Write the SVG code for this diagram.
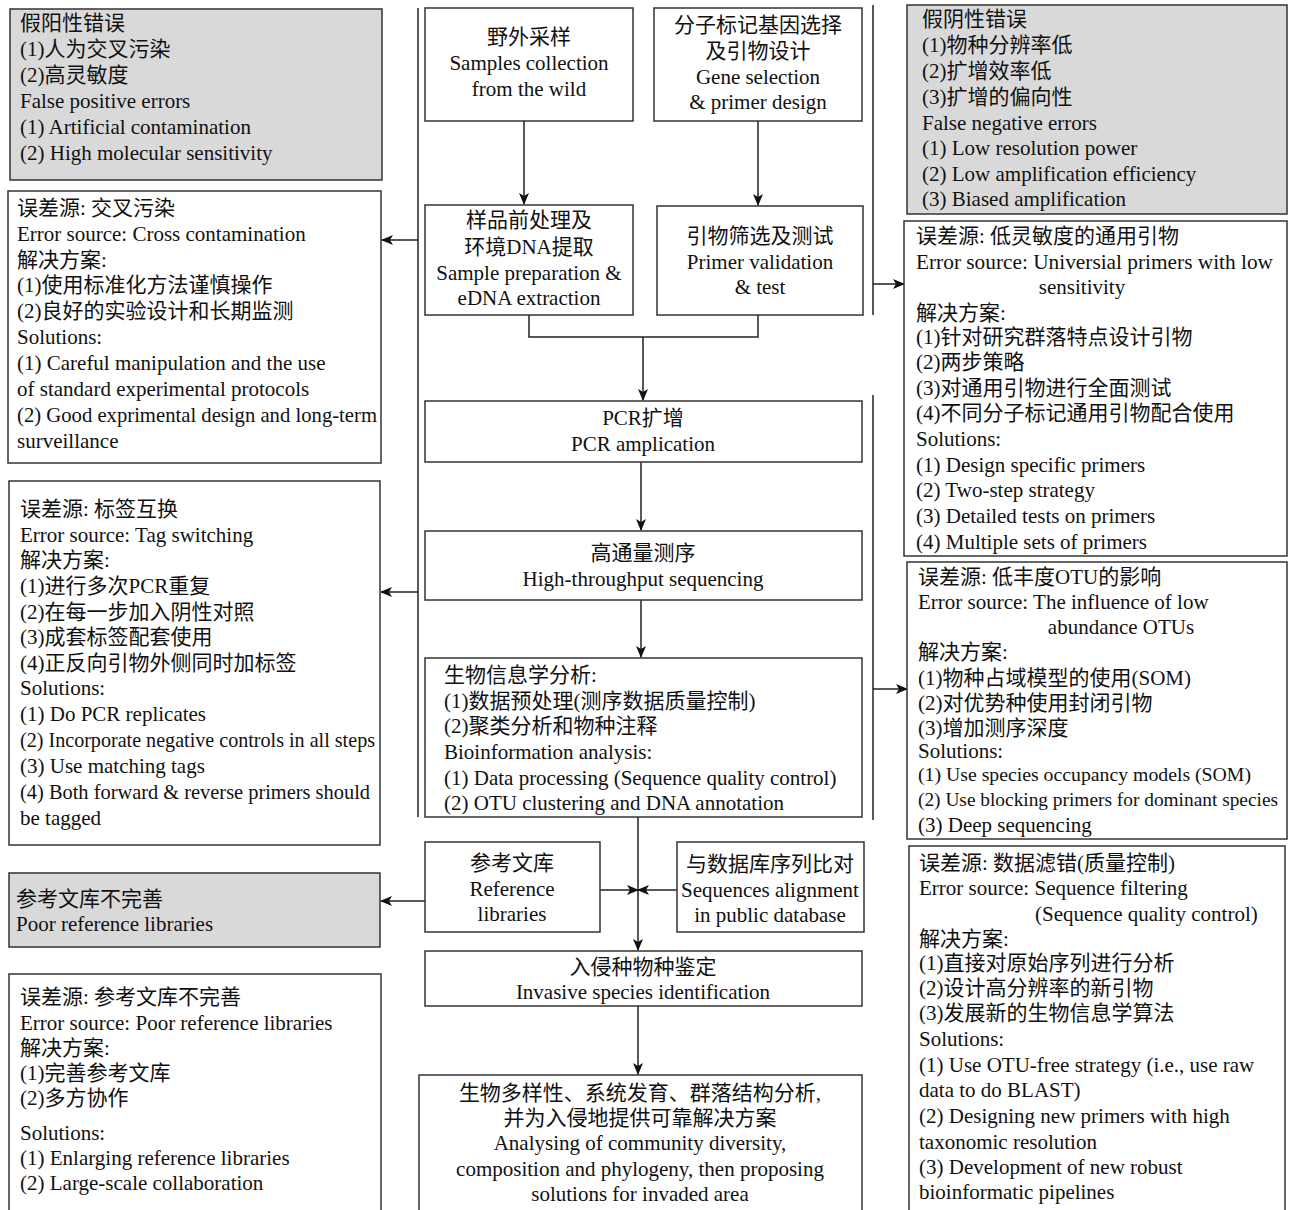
<svg xmlns="http://www.w3.org/2000/svg" width="1289" height="1210" viewBox="0 0 1289 1210">
<style>
.bx{fill:#fff;stroke:#333;stroke-width:1.5}
.gy{fill:#d9d9d9;stroke:#333;stroke-width:1.5}
.t{font-family:"Liberation Serif","Noto Sans CJK SC",serif;font-size:21px;fill:#111}
.s{font-size:19.5px}
.c{text-anchor:middle}
.ln{fill:none;stroke:#222;stroke-width:1.5}
</style>
<defs>
<marker id="ah" viewBox="0 0 12 10" markerWidth="12" markerHeight="10" refX="11" refY="5" orient="auto" markerUnits="userSpaceOnUse">
<path d="M0,0 L12,5 L0,10 L3,5 z" fill="#111"/>
</marker>
</defs>
<rect width="1289" height="1210" fill="#fff"/>

<g id="connectors">
<line class="ln" x1="418" y1="8" x2="418" y2="817"/>
<line class="ln" x1="873" y1="5" x2="873" y2="315"/>
<line class="ln" x1="873" y1="395" x2="873" y2="820"/>
<line class="ln" x1="524" y1="121" x2="524" y2="204" marker-end="url(#ah)"/>
<line class="ln" x1="758" y1="121" x2="758" y2="205" marker-end="url(#ah)"/>
<polyline class="ln" points="529,315 529,337 758,337 758,315"/>
<line class="ln" x1="643" y1="337" x2="643" y2="400" marker-end="url(#ah)"/>
<line class="ln" x1="641" y1="462" x2="641" y2="530" marker-end="url(#ah)"/>
<line class="ln" x1="641" y1="600" x2="641" y2="657" marker-end="url(#ah)"/>
<line class="ln" x1="638" y1="817" x2="638" y2="950" marker-end="url(#ah)"/>
<line class="ln" x1="600" y1="890" x2="638" y2="890" marker-end="url(#ah)"/>
<line class="ln" x1="677" y1="890" x2="638" y2="890" marker-end="url(#ah)"/>
<line class="ln" x1="425" y1="901" x2="381" y2="901" marker-end="url(#ah)"/>
<line class="ln" x1="638" y1="1006" x2="638" y2="1074" marker-end="url(#ah)"/>
<line class="ln" x1="418" y1="240" x2="382" y2="240" marker-end="url(#ah)"/>
<line class="ln" x1="418" y1="592" x2="381" y2="592" marker-end="url(#ah)"/>
<line class="ln" x1="873" y1="284" x2="904" y2="284" marker-end="url(#ah)"/>
<line class="ln" x1="873" y1="689" x2="907" y2="689" marker-end="url(#ah)"/>
</g>

<g id="n-sample">
<rect class="bx" x="425" y="8" width="208" height="113"/>
<text class="t c" x="529" y="44">野外采样</text>
<text class="t c" x="529" y="70">Samples collection</text>
<text class="t c" x="529" y="96">from the wild</text>
</g>
<g id="n-gene">
<rect class="bx" x="654" y="8" width="208" height="113"/>
<text class="t c" x="758" y="32">分子标记基因选择</text>
<text class="t c" x="758" y="58">及引物设计</text>
<text class="t c" x="758" y="84">Gene selection</text>
<text class="t c" x="758" y="109">&amp; primer design</text>
</g>
<g id="n-prep">
<rect class="bx" x="425" y="205" width="208" height="110"/>
<text class="t c" x="529" y="227">样品前处理及</text>
<text class="t c" x="529" y="254">环境DNA提取</text>
<text class="t c" x="529" y="280">Sample preparation &amp;</text>
<text class="t c" x="529" y="305">eDNA extraction</text>
</g>
<g id="n-primer">
<rect class="bx" x="657" y="206" width="206" height="109"/>
<text class="t c" x="760" y="243">引物筛选及测试</text>
<text class="t c" x="760" y="269">Primer validation</text>
<text class="t c" x="760" y="294">&amp; test</text>
</g>
<g id="n-pcr">
<rect class="bx" x="425" y="401" width="437" height="61"/>
<text class="t c" x="643" y="425">PCR扩增</text>
<text class="t c" x="643" y="451">PCR amplication</text>
</g>
<g id="n-hts">
<rect class="bx" x="425" y="531" width="437" height="69"/>
<text class="t c" x="643" y="560">高通量测序</text>
<text class="t c" x="643" y="586">High-throughput sequencing</text>
</g>
<g id="n-bio">
<rect class="bx" x="425" y="658" width="437" height="159"/>
<text class="t" x="444" y="682">生物信息学分析:</text>
<text class="t" x="444" y="708">(1)数据预处理(测序数据质量控制)</text>
<text class="t" x="444" y="733">(2)聚类分析和物种注释</text>
<text class="t" x="444" y="759">Bioinformation analysis:</text>
<text class="t" x="444" y="785">(1) Data processing (Sequence quality control)</text>
<text class="t" x="444" y="810">(2) OTU clustering and DNA annotation</text>
</g>
<g id="n-ref">
<rect class="bx" x="425" y="842" width="175" height="90"/>
<text class="t c" x="512" y="870">参考文库</text>
<text class="t c" x="512" y="896">Reference</text>
<text class="t c" x="512" y="921">libraries</text>
</g>
<g id="n-align">
<rect class="bx" x="677" y="842" width="187" height="90"/>
<text class="t c" x="770" y="871">与数据库序列比对</text>
<text class="t c" x="770" y="897">Sequences alignment</text>
<text class="t c" x="770" y="922">in public database</text>
</g>
<g id="n-inv">
<rect class="bx" x="425" y="951" width="437" height="55"/>
<text class="t c" x="643" y="974">入侵种物种鉴定</text>
<text class="t c" x="643" y="999">Invasive species identification</text>
</g>
<g id="n-final">
<rect class="bx" x="419" y="1075" width="443" height="145"/>
<text class="t c" x="640" y="1100">生物多样性、系统发育、群落结构分析,</text>
<text class="t c" x="640" y="1125">并为入侵地提供可靠解决方案</text>
<text class="t c" x="640" y="1150">Analysing of community diversity,</text>
<text class="t c" x="640" y="1176">composition and phylogeny, then proposing</text>
<text class="t c" x="640" y="1201">solutions for invaded area</text>
</g>

<g id="n-fp">
<rect class="gy" x="10" y="9" width="372" height="171"/>
<text class="t" x="20" y="30">假阳性错误</text>
<text class="t" x="20" y="56">(1)人为交叉污染</text>
<text class="t" x="20" y="82">(2)高灵敏度</text>
<text class="t" x="20" y="108">False positive errors</text>
<text class="t" x="20" y="134">(1) Artificial contamination</text>
<text class="t" x="20" y="160">(2) High molecular sensitivity</text>
</g>
<g id="n-cross">
<rect class="bx" x="8" y="191" width="373" height="272"/>
<text class="t" x="17" y="215">误差源: 交叉污染</text>
<text class="t" x="17" y="241">Error source: Cross contamination</text>
<text class="t" x="17" y="267">解决方案:</text>
<text class="t" x="17" y="292">(1)使用标准化方法谨慎操作</text>
<text class="t" x="17" y="318">(2)良好的实验设计和长期监测</text>
<text class="t" x="17" y="344">Solutions:</text>
<text class="t" x="17" y="370">(1) Careful manipulation and the use</text>
<text class="t" x="17" y="396">of standard experimental protocols</text>
<text class="t" x="17" y="422" textLength="360" lengthAdjust="spacingAndGlyphs">(2) Good exprimental design and long-term</text>
<text class="t" x="17" y="448">surveillance</text>
</g>
<g id="n-tag">
<rect class="bx" x="9" y="481" width="371" height="364"/>
<text class="t" x="20" y="516">误差源: 标签互换</text>
<text class="t" x="20" y="542">Error source: Tag switching</text>
<text class="t" x="20" y="567">解决方案:</text>
<text class="t" x="20" y="593">(1)进行多次PCR重复</text>
<text class="t" x="20" y="619">(2)在每一步加入阴性对照</text>
<text class="t" x="20" y="644">(3)成套标签配套使用</text>
<text class="t" x="20" y="670">(4)正反向引物外侧同时加标签</text>
<text class="t" x="20" y="695">Solutions:</text>
<text class="t" x="20" y="721">(1) Do PCR replicates</text>
<text class="t" x="20" y="747" textLength="355" lengthAdjust="spacingAndGlyphs">(2) Incorporate negative controls in all steps</text>
<text class="t" x="20" y="773">(3) Use matching tags</text>
<text class="t" x="20" y="799" textLength="350" lengthAdjust="spacingAndGlyphs">(4) Both forward &amp; reverse primers should</text>
<text class="t" x="20" y="825">be tagged</text>
</g>
<g id="n-poor">
<rect class="gy" x="9" y="873" width="371" height="74"/>
<text class="t" x="16" y="906">参考文库不完善</text>
<text class="t" x="16" y="931">Poor reference libraries</text>
</g>
<g id="n-poor-sol">
<rect class="bx" x="9" y="974" width="372" height="246"/>
<text class="t" x="20" y="1004">误差源: 参考文库不完善</text>
<text class="t" x="20" y="1030">Error source: Poor reference libraries</text>
<text class="t" x="20" y="1055">解决方案:</text>
<text class="t" x="20" y="1080">(1)完善参考文库</text>
<text class="t" x="20" y="1105">(2)多方协作</text>
<text class="t" x="20" y="1140">Solutions:</text>
<text class="t" x="20" y="1165">(1) Enlarging reference libraries</text>
<text class="t" x="20" y="1190">(2) Large-scale collaboration</text>
</g>

<g id="n-fn">
<rect class="gy" x="907" y="5" width="380" height="209"/>
<text class="t" x="922" y="26">假阴性错误</text>
<text class="t" x="922" y="52">(1)物种分辨率低</text>
<text class="t" x="922" y="78">(2)扩增效率低</text>
<text class="t" x="922" y="104">(3)扩增的偏向性</text>
<text class="t" x="922" y="130">False negative errors</text>
<text class="t" x="922" y="155">(1) Low resolution power</text>
<text class="t" x="922" y="181">(2) Low amplification efficiency</text>
<text class="t" x="922" y="206">(3) Biased amplification</text>
</g>
<g id="n-univ">
<rect class="bx" x="904" y="221" width="383" height="335"/>
<text class="t" x="916" y="243">误差源: 低灵敏度的通用引物</text>
<text class="t" x="916" y="269" textLength="357" lengthAdjust="spacingAndGlyphs">Error source: Universial primers with low</text>
<text class="t c" x="1082" y="294">sensitivity</text>
<text class="t" x="916" y="320">解决方案:</text>
<text class="t" x="916" y="344">(1)针对研究群落特点设计引物</text>
<text class="t" x="916" y="369">(2)两步策略</text>
<text class="t" x="916" y="395">(3)对通用引物进行全面测试</text>
<text class="t" x="916" y="420">(4)不同分子标记通用引物配合使用</text>
<text class="t" x="916" y="446">Solutions:</text>
<text class="t" x="916" y="472">(1) Design specific primers</text>
<text class="t" x="916" y="497">(2) Two-step strategy</text>
<text class="t" x="916" y="523">(3) Detailed tests on primers</text>
<text class="t" x="916" y="549">(4) Multiple sets of primers</text>
</g>
<g id="n-otu">
<rect class="bx" x="907" y="562" width="380" height="277"/>
<text class="t" x="918" y="584">误差源: 低丰度OTU的影响</text>
<text class="t" x="918" y="609">Error source: The influence of low</text>
<text class="t c" x="1121" y="634">abundance OTUs</text>
<text class="t" x="918" y="659">解决方案:</text>
<text class="t" x="918" y="685">(1)物种占域模型的使用(SOM)</text>
<text class="t" x="918" y="710">(2)对优势种使用封闭引物</text>
<text class="t" x="918" y="735">(3)增加测序深度</text>
<text class="t" x="918" y="758">Solutions:</text>
<text class="t s" x="918" y="781" textLength="333" lengthAdjust="spacingAndGlyphs">(1) Use species occupancy models (SOM)</text>
<text class="t s" x="918" y="806" textLength="360" lengthAdjust="spacingAndGlyphs">(2) Use blocking primers for dominant species</text>
<text class="t" x="918" y="832">(3) Deep sequencing</text>
</g>
<g id="n-filter">
<rect class="bx" x="909" y="846" width="376" height="374"/>
<text class="t" x="919" y="870">误差源: 数据滤错(质量控制)</text>
<text class="t" x="919" y="895">Error source: Sequence filtering</text>
<text class="t" x="1035" y="921">(Sequence quality control)</text>
<text class="t" x="919" y="946">解决方案:</text>
<text class="t" x="919" y="970">(1)直接对原始序列进行分析</text>
<text class="t" x="919" y="995">(2)设计高分辨率的新引物</text>
<text class="t" x="919" y="1020">(3)发展新的生物信息学算法</text>
<text class="t" x="919" y="1046">Solutions:</text>
<text class="t" x="919" y="1072">(1) Use OTU-free strategy (i.e., use raw</text>
<text class="t" x="919" y="1097">data to do BLAST)</text>
<text class="t" x="919" y="1123">(2) Designing new primers with high</text>
<text class="t" x="919" y="1149">taxonomic resolution</text>
<text class="t" x="919" y="1174">(3) Development of new robust</text>
<text class="t" x="919" y="1199">bioinformatic pipelines</text>
</g>
</svg>
